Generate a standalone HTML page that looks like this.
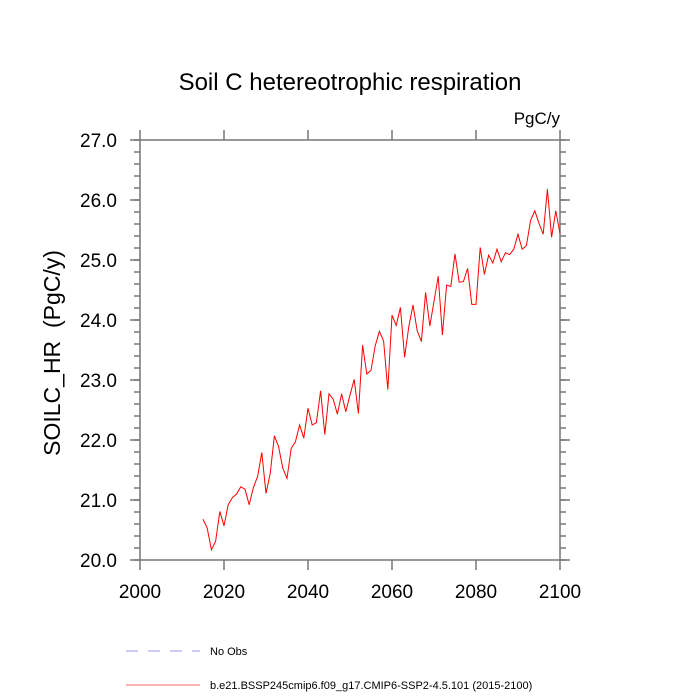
<!DOCTYPE html>
<html><head><meta charset="utf-8"><style>
body{margin:0;background:#fff;}
svg{display:block;font-family:"Liberation Sans",sans-serif;}
</style></head><body>
<svg width="700" height="700" viewBox="0 0 700 700">
<text x="350" y="90" text-anchor="middle" font-size="24">Soil C hetereotrophic respiration</text>
<text x="560" y="124" text-anchor="end" font-size="17">PgC/y</text>
<text transform="translate(60,353) rotate(-90)" text-anchor="middle" font-size="23" style="white-space:pre">SOILC_HR  (PgC/y)</text>
<g id="axes"></g>
<polyline id="series" fill="none" stroke="#ff0000" stroke-width="1"/>
<line x1="126" y1="651" x2="200" y2="651" stroke="#9999ee" stroke-width="1" stroke-dasharray="12,10"/>
<text x="210" y="655" font-size="11">No Obs</text>
<line x1="126" y1="685" x2="200" y2="685" stroke="#ff6666" stroke-width="1"/>
<text x="210" y="689" font-size="11">b.e21.BSSP245cmip6.f09_g17.CMIP6-SSP2-4.5.101 (2015-2100)</text>
</svg>
<script>
const startYear = 2015;
const values = [20.68,20.53,20.17,20.31,20.81,20.57,20.92,21.04,21.10,21.22,21.18,20.92,21.21,21.39,21.79,21.11,21.44,22.07,21.89,21.53,21.36,21.86,21.97,22.25,22.03,22.53,22.25,22.29,22.82,22.09,22.77,22.68,22.43,22.77,22.47,22.75,23.01,22.44,23.58,23.10,23.16,23.57,23.81,23.65,22.84,24.08,23.91,24.21,23.38,23.89,24.25,23.82,23.64,24.46,23.90,24.31,24.73,23.75,24.58,24.56,25.10,24.63,24.64,24.86,24.26,24.26,25.21,24.76,25.08,24.95,25.18,24.97,25.12,25.09,25.18,25.43,25.18,25.24,25.66,25.82,25.61,25.43,26.18,25.38,25.82,25.44];
const xTicks = [2000,2020,2040,2060,2080,2100];
const yTicks = [20.0,21.0,22.0,23.0,24.0,25.0,26.0,27.0];
const xMin=2000,xMax=2100,yMin=20,yMax=27;
const L=140,R=560,T=140,B=560;
const sx=v=>L+(v-xMin)/(xMax-xMin)*(R-L);
const sy=v=>B-(v-yMin)/(yMax-yMin)*(B-T);
const NS='http://www.w3.org/2000/svg';
const g=document.getElementById('axes');
function ln(x1,y1,x2,y2,name){const e=document.createElementNS(NS,'line');
e.setAttribute('x1',x1);e.setAttribute('y1',y1);e.setAttribute('x2',x2);e.setAttribute('y2',y2);
e.setAttribute('stroke','#777');e.setAttribute('stroke-width','1.5');


g.appendChild(e);}
function tx(x,y,s,anchor,name){const e=document.createElementNS(NS,'text');
e.setAttribute('x',x);e.setAttribute('y',y);e.setAttribute('text-anchor',anchor);e.setAttribute('font-size','19');e.textContent=s;


g.appendChild(e);}
ln(L,T,R,T,'plot-frame-top');ln(L,B,R,B,'plot-frame-bottom');ln(L,T,L,B,'plot-frame-left');ln(R,T,R,B,'plot-frame-right');
xTicks.forEach(v=>{const x=sx(v);ln(x,B,x,B+10,'x-tick');ln(x,T,x,T-10,'x-tick-top');tx(x,B+38,String(v),'middle','x-tick-label');});
yTicks.forEach(v=>{const y=sy(v);ln(L-10,y,L,y,'y-tick');ln(R,y,R+10,y,'y-tick-right');tx(L-23,y+7,v.toFixed(1),'end','y-tick-label');});
for(let v=yMin;v<=yMax+1e-9;v+=0.2){const y=sy(v);ln(L-6,y,L,y,'y-minor-tick');ln(R,y,R+6,y,'y-minor-tick-right');}
document.getElementById('series').setAttribute('points',values.map((v,i)=>sx(startYear+i)+','+sy(v)).join(' '));
</script>
</body></html>
